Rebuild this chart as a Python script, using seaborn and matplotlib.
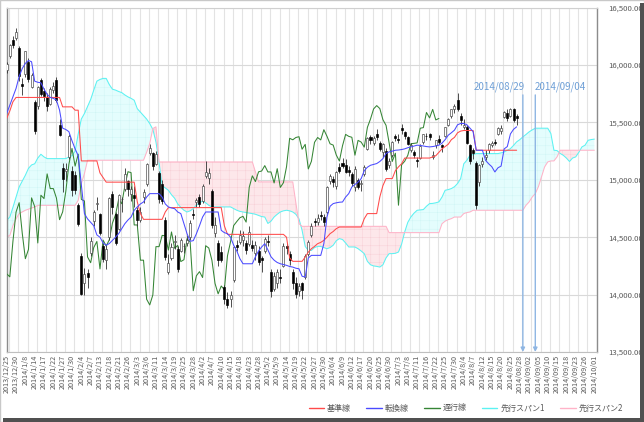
import numpy as np
import pandas as pd
import matplotlib
matplotlib.use("Agg")
import matplotlib.pyplot as plt
import seaborn as sns
from matplotlib.patches import Rectangle
from matplotlib.lines import Line2D
from matplotlib.ticker import FuncFormatter

# ---------------- data ----------------
tick_labels = ["2013/12/25","2013/12/30","2014/1/8","2014/1/14","2014/1/17","2014/1/22","2014/1/27","2014/1/30",
    "2014/2/4","2014/2/7","2014/2/13","2014/2/18","2014/2/21","2014/2/26","2014/3/3","2014/3/6","2014/3/11",
    "2014/3/14","2014/3/19","2014/3/25","2014/3/28","2014/4/2","2014/4/7","2014/4/10","2014/4/15","2014/4/18",
    "2014/4/23","2014/4/28","2014/5/2","2014/5/9","2014/5/14","2014/5/19","2014/5/22","2014/5/27","2014/5/30",
    "2014/6/4","2014/6/9","2014/6/12","2014/6/17","2014/6/20","2014/6/25","2014/6/30","2014/7/3","2014/7/8",
    "2014/7/11","2014/7/16","2014/7/22","2014/7/25","2014/7/30","2014/8/4","2014/8/7","2014/8/12","2014/8/15",
    "2014/8/20","2014/8/25","2014/08/28","2014/09/02","2014/09/05","2014/09/10","2014/09/15","2014/09/18",
    "2014/09/23","2014/09/26","2014/10/01"]

open_ = [15960,16080,16220,16240,16147,15835,15920,16030,15810,15680,
15640,15870,15770,15720,15660,15780,15870,15480,15100,15080,
15200,15080,15040,14780,14340,14100,14190,14360,14640,14790,
14700,14420,14300,14500,14880,14700,14570,14830,14920,14990,
14880,14870,14740,14650,14850,14960,15230,15230,15140,15060,
14960,14650,14200,14320,14460,14400,14380,14420,14450,14500,
14700,14810,14850,14820,15030,15020,14900,14540,14450,14370,
14070,13960,13960,14130,14430,14460,14480,14450,14440,14430,
14360,14380,14320,14380,14470,14200,14050,14100,14150,14250,
14420,14350,14200,14100,14030,14100,14150,14350,14520,14640,
14630,14690,14680,14720,14990,15010,14950,15110,15150,15130,
15090,15050,14940,15000,14960,15050,15270,15370,15320,15400,
15320,15240,15250,15130,15220,15380,15360,15450,15420,15370,
15260,15240,15170,15190,15330,15380,15400,15200,15300,15360,
15300,15380,15480,15560,15620,15700,15560,15460,15460,15300,
15260,15150,14980,15140,15200,15260,15300,15330,15400,15430,
15550,15580,15560,15620,15560]

high = [16030,16180,16250,16320,16164,15891,16121,16060,15930,15700,
15820,15890,15800,15760,15810,15850,15900,15530,15150,15150,
15400,15120,15080,14800,14360,14230,14220,14500,14740,14850,
14710,14450,14430,14850,14900,14720,14880,14850,15100,15000,
14950,14950,14760,14760,14920,15150,15310,15240,15250,15080,
15000,14680,14350,14450,14520,14420,14490,14450,14520,14650,
14750,14840,14880,14960,15160,15100,14920,14680,14480,14420,
14080,14020,14030,14420,14480,14560,14550,14480,14600,14480,
14470,14420,14340,14500,14520,14220,14200,14220,14220,14450,
14450,14380,14220,14150,14100,14110,14350,14480,14620,14670,
14700,14730,14700,14950,15050,15030,15080,15150,15190,15180,
15120,15070,15120,15020,15000,15130,15370,15390,15380,15440,
15340,15320,15280,15190,15340,15400,15400,15490,15430,15380,
15320,15260,15200,15310,15400,15410,15410,15250,15350,15390,
15310,15460,15540,15620,15660,15759,15580,15530,15480,15310,
15280,15160,15140,15200,15260,15320,15340,15360,15460,15480,
15600,15620,15630,15630,15570]

low = [15930,16060,16150,16220,15864,15736,15900,15850,15800,15400,
15620,15730,15690,15600,15650,15760,15680,15380,14890,14990,
15180,14860,14880,14600,13995,14000,14060,14340,14600,14740,
14520,14280,14220,14480,14700,14430,14560,14720,14900,14860,
14820,14760,14600,14630,14800,14950,15220,15090,15130,14800,
14790,14300,14180,14300,14400,14200,14370,14360,14420,14480,
14660,14760,14760,14800,15020,14960,14580,14500,14250,14280,
13920,13885,13890,14110,14380,14440,14420,14350,14420,14380,
14300,14260,14200,14360,14420,13980,14030,14060,14100,14240,
14350,14260,14050,13970,13990,13965,14140,14340,14500,14600,
14610,14650,14600,14700,14960,14940,14920,15060,15100,15060,
15030,14950,14900,14920,14900,15030,15260,15310,15300,15350,
15250,15200,15080,15100,15200,15340,15320,15400,15360,15300,
15240,15190,15110,15180,15310,15350,15350,15180,15280,15310,
15240,15370,15470,15540,15580,15600,15480,15440,15310,15140,
15180,14750,14950,15110,15170,15230,15290,15300,15390,15400,
15540,15510,15550,15500,15480]

close = [16009,16174,16178,16291,15908,15814,16121,15880,15912,15422,
15809,15747,15734,15641,15795,15821,15695,15391,15006,15095,
15384,14915,14915,14619,14009,14181,14155,14463,14719,14801,
14535,14313,14394,14843,14767,14450,14866,14837,15052,14924,
14924,14841,14653,14721,14898,15135,15274,15120,15224,14830,
14816,14328,14278,14411,14463,14224,14475,14423,14478,14623,
14696,14828,14792,14946,15071,15063,14607,14607,14300,14300,
13960,13910,13997,14418,14418,14516,14512,14388,14546,14404,
14429,14288,14304,14486,14458,14034,14164,14200,14149,14426,
14406,14299,14097,14007,14075,14043,14338,14462,14602,14637,
14670,14682,14632,14935,15035,14985,15070,15077,15124,15069,
15069,14973,15097,14934,14975,15115,15362,15349,15369,15376,
15267,15309,15095,15162,15327,15369,15348,15437,15380,15314,
15303,15216,15164,15297,15396,15379,15371,15215,15344,15329,
15285,15457,15530,15618,15647,15621,15524,15475,15321,15160,
15232,14779,15131,15162,15214,15315,15318,15322,15450,15455,
15587,15540,15614,15522,15535]

kijun = [15535,15600,15680,15718,15718,15718,15718,15718,15718,15718,
15718,15718,15718,15718,15718,15718,15718,15718,15636,15636,
15636,15636,15607,15607,15165,15165,15165,15165,15165,15165,
15060,15020,14980,14980,14980,14980,14980,14980,14980,14980,
14980,14980,14808,14706,14656,14656,14656,14656,14656,14656,
14656,14720,14758,14758,14758,14758,14758,14758,14758,14758,
14758,14758,14758,14758,14758,14758,14758,14758,14758,14758,
14600,14525,14525,14525,14525,14525,14525,14525,14525,14525,
14525,14525,14525,14525,14525,14525,14525,14525,14525,14525,
14500,14320,14290,14290,14290,14290,14327,14370,14400,14420,
14444,14455,14473,14500,14531,14550,14575,14589,14589,14589,
14589,14589,14589,14589,14589,14662,14706,14706,14706,14706,
14851,14950,15011,15011,15011,15080,15113,15140,15190,15190,
15190,15190,15190,15190,15190,15190,15190,15200,15210,15240,
15270,15290,15310,15350,15370,15410,15425,15430,15430,15430,
15430,15258,15258,15258,15258,15258,15258,15258,15258,15258,
15258,15258,15258,15258,15258]

tenkan = [15578,15650,15724,15796,15900,15970,16015,16040,16029,15860,
15850,15846,15790,15745,15718,15710,15695,15607,15450,15439,
15420,15340,15270,15210,14960,14706,14660,14630,14600,14520,
14500,14450,14430,14445,14473,14500,14531,14575,14618,14650,
14676,14735,14764,14790,14807,14850,14880,14880,14880,14880,
14850,14790,14764,14755,14749,14720,14706,14618,14531,14465,
14470,14530,14600,14676,14720,14720,14720,14720,14720,14560,
14540,14531,14500,14430,14380,14313,14269,14269,14269,14269,
14330,14380,14415,14444,14390,14330,14300,14280,14269,14262,
14255,14245,14240,14230,14225,14160,14153,14320,14342,14342,
14342,14342,14444,14676,14770,14793,14800,14805,14807,14850,
14880,14938,14960,14980,15011,15080,15110,15127,15135,15142,
15160,15185,15230,15244,15250,15258,15260,15264,15270,15280,
15287,15295,15302,15300,15295,15290,15287,15290,15295,15302,
15320,15350,15389,15410,15433,15480,15491,15491,15480,15450,
15420,15258,15258,15258,15170,15140,15115,15069,15105,15120,
15270,15290,15400,15440,15462]

span1 = [14647,14676,14760,14850,14938,14990,15040,15100,15130,15140,
15190,15223,15200,15185,15185,15185,15185,15185,15185,15185,
15200,15210,15250,15400,15530,15578,15640,15700,15782,15860,
15875,15884,15884,15830,15790,15782,15770,15760,15740,15723,
15710,15694,15620,15590,15560,15530,15490,15440,15330,15150,
14950,14930,14909,14870,14840,14790,14760,14735,14720,14730,
14749,14780,14800,14815,14800,14778,14764,14764,14764,14764,
14764,14764,14764,14750,14735,14725,14720,14715,14710,14706,
14700,14690,14680,14676,14620,14640,14676,14700,14720,14730,
14735,14730,14720,14700,14660,14560,14420,14385,14385,14410,
14420,14420,14410,14400,14410,14430,14470,14488,14480,14450,
14415,14415,14415,14400,14380,14357,14290,14260,14250,14246,
14240,14260,14320,14357,14357,14360,14371,14440,14546,14630,
14677,14710,14735,14738,14741,14770,14793,14795,14800,14808,
14850,14909,14915,14924,14940,14968,15011,15140,15171,15214,
15220,15229,15229,15229,15229,15229,15229,15229,15229,15235,
15243,15258,15272,15300,15331,15350,15374,15395,15418,15435,
15450,15450,15450,15450,15450,15404,15258,15255,15230,15214,
15190,15160,15190,15200,15240,15287,15302,15345,15351,15355]

span2 = [14502,14516,14600,14660,14706,14720,14735,14745,14755,14764,
14778,14778,14778,14778,14778,14778,14778,14778,14778,14778,
14778,14778,14778,14822,14967,15055,15171,15171,15171,15171,
15171,15171,15171,15171,15171,15171,15171,15171,15171,15171,
15171,15171,15171,15171,15171,15240,15316,15447,15462,15156,
15156,15156,15156,15156,15156,15156,15156,15156,15156,15156,
15156,15156,15156,15156,15156,15156,15156,15156,15156,15156,
15156,15156,15156,15156,15156,15156,15156,15156,15156,15156,
15070,14982,14982,14982,14982,14982,14982,14982,14982,14982,
14982,14982,14982,14800,14618,14595,14595,14595,14595,14595,
14595,14595,14595,14595,14595,14595,14595,14595,14595,14595,
14595,14595,14595,14595,14595,14595,14595,14595,14595,14595,
14595,14595,14595,14540,14540,14540,14540,14540,14540,14540,
14540,14540,14540,14540,14540,14540,14540,14540,14540,14540,
14618,14640,14653,14662,14676,14676,14676,14706,14715,14720,
14735,14735,14735,14735,14735,14735,14735,14735,14735,14735,
14735,14735,14735,14735,14735,14735,14735,14778,14807,14850,
14880,14940,15025,15113,15156,15165,15165,15200,15258,15258,
15258,15258,15258,15258,15258,15258,15258,15258,15258,15258]

legend_labels = ["基準線", "転換線", "遅行線", "先行スパン1", "先行スパン2"]
marks = ["2014/08/29", "2014/09/04"]
mark_idx = [166, 170]
chikou_shift = 25

# ---------------- style ----------------
sns.set_theme(style="white")
plt.rcParams['font.family'] = ['Noto Sans CJK JP', 'DejaVu Sans']
plt.rcParams['hatch.linewidth'] = 0.3

c_kijun = '#ff4a4a'
c_tenkan = '#4a4aff'
c_chikou = '#358535'
c_span1 = '#5cf2f2'
c_span2 = '#ffb3c8'
txt = '#595959'
LW = 0.75

W, H = 644, 422
fig = plt.figure(figsize=(W / 100, H / 100), dpi=100)
fig.patch.set_facecolor('white')
ax = fig.add_axes([6.7 / W, 1 - 352 / H, 590 / W, (352 - 7.7) / H])
ax.set_facecolor('white')

n_cat = len(span1)
fidx = np.arange(n_cat)
idx = np.arange(len(close))
O = np.array(open_, float); C = np.array(close, float)
Hh = np.array(high, float); L = np.array(low, float)
s1 = np.array(span1, float); s2 = np.array(span2, float)

# cloud
ax.fill_between(fidx, s1, s2, where=s1 >= s2, interpolate=True,
                facecolor='#e4fdfd', edgecolor='#cdf4f4', hatch='++', linewidth=0, zorder=1)
ax.fill_between(fidx, s1, s2, where=s1 < s2, interpolate=True,
                facecolor='#fde7ea', edgecolor='#f6ccd3', hatch='++', linewidth=0, zorder=1)

df_f = pd.DataFrame({'x': fidx, 'span1': s1, 'span2': s2})
sns.lineplot(data=df_f, x='x', y='span1', color=c_span1, linewidth=LW, ax=ax, zorder=2)
sns.lineplot(data=df_f, x='x', y='span2', color=c_span2, linewidth=LW, ax=ax, zorder=2)

# chikou: closes drawn 25 periods back
df_c = pd.DataFrame({'x': idx[chikou_shift:] - chikou_shift, 'y': C[chikou_shift:]})
sns.lineplot(data=df_c, x='x', y='y', color=c_chikou, linewidth=LW, ax=ax, zorder=3)

# candles
up = C >= O
ax.vlines(idx, L, Hh, color='#303030', linewidth=0.6, zorder=4)
ax.bar(idx[up], np.maximum(C - O, 3)[up], bottom=O[up], width=0.65,
       color='white', edgecolor='#404040', linewidth=0.45, zorder=5)
ax.bar(idx[~up], np.maximum(O - C, 3)[~up], bottom=C[~up], width=0.65,
       color='black', edgecolor='black', linewidth=0.45, zorder=5)

df_l = pd.DataFrame({'x': idx, 'kijun': kijun, 'tenkan': tenkan})
sns.lineplot(data=df_l, x='x', y='kijun', color=c_kijun, linewidth=LW, ax=ax, zorder=6)
sns.lineplot(data=df_l, x='x', y='tenkan', color=c_tenkan, linewidth=LW, ax=ax, zorder=6)

# axes
ax.set_xlim(0, n_cat - 1)
ax.set_ylim(13500, 16500)
ax.set_xlabel('')
ax.set_ylabel('')
ax.set_yticks(np.arange(13500, 16501, 500))
ax.yaxis.set_major_formatter(FuncFormatter(lambda v, p: f"{v:,.2f}"))
ax.yaxis.tick_right()
ax.tick_params(axis='y', length=0, pad=8, labelsize=5.6, labelcolor=txt)
ax.set_xticks(np.arange(0, n_cat, 3))
ax.set_xticklabels(tick_labels, rotation=90, fontsize=5.2, color=txt)
ax.tick_params(axis='x', length=0, pad=2)
ax.set_xticks(np.arange(0, n_cat, 3) + 0.75, minor=True)
ax.grid(False)
ax.grid(axis='y', which='major', color='#d9d9d9', linewidth=0.8, zorder=0)
ax.grid(axis='x', which='minor', color='#e3e3e3', linewidth=0.8, zorder=0)
ax.tick_params(axis='x', which='minor', length=0)
ax.set_axisbelow(True)
for s in ['left', 'right']:
    ax.spines[s].set_color('#8c8c8c'); ax.spines[s].set_linewidth(1.0)
ax.spines['top'].set_color('#d0d0d0'); ax.spines['top'].set_linewidth(0.8)
ax.spines['bottom'].set_color('#bfbfbf'); ax.spines['bottom'].set_linewidth(0.8)

# annotations
for pos, lab, ha, dx in zip(mark_idx, marks, ['right', 'left'], [0.7, -0.2]):
    ax.annotate('', xy=(pos, 13500), xytext=(pos, 15740),
                arrowprops=dict(arrowstyle='-|>', color='#8fb6e3', lw=1.0,
                                mutation_scale=6, shrinkA=0, shrinkB=0), zorder=7)
    ax.text(pos + dx, 15808, lab, ha=ha, va='center', fontsize=7, color='#6e9fd6', zorder=7)

# legend
handles = [Line2D([], [], color=c, lw=1.0) for c in [c_kijun, c_tenkan, c_chikou, c_span1, c_span2]]
fig.legend(handles, legend_labels, loc='center', bbox_to_anchor=(466 / W, 1 - 408 / H),
           ncol=5, frameon=False, fontsize=5.8, handlelength=1.9, handletextpad=0.4,
           columnspacing=1.9, labelcolor=txt)

# chart border and shadow
fig.patches.append(Rectangle((0, 0), 1, 1, transform=fig.transFigure, fill=False,
                             edgecolor='#c8c8c8', linewidth=1.0))
fig.patches.append(Rectangle((3 / W, 0), 1 - 3 / W, 4 / H, transform=fig.transFigure,
                             facecolor='#505050', edgecolor='none'))
fig.patches.append(Rectangle((1 - 4 / W, 0), 4 / W, 1 - 3 / H, transform=fig.transFigure,
                             facecolor='#505050', edgecolor='none'))

fig.savefig('out.png', dpi=100, facecolor='white')
